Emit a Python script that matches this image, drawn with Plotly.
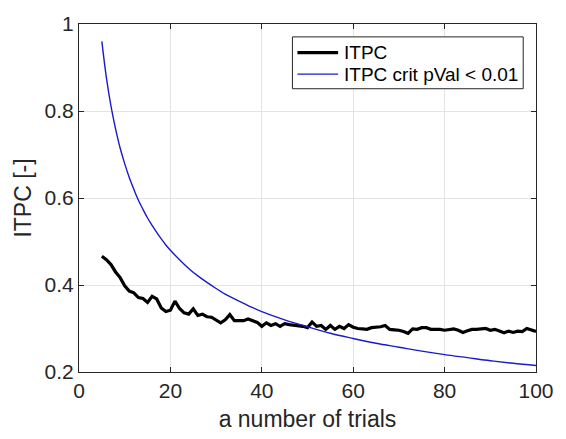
import plotly.graph_objects as go

# Observed ITPC (black) per number of trials, 5..100
trials = list(range(5, 101))
itpc = [0.466, 0.458, 0.447, 0.430, 0.417, 0.398, 0.386, 0.382, 0.371, 0.369,
        0.360, 0.374, 0.368, 0.347, 0.339, 0.342, 0.363, 0.346, 0.336, 0.333,
        0.345, 0.330, 0.333, 0.327, 0.326, 0.320, 0.313, 0.320, 0.332, 0.318,
        0.318, 0.318, 0.322, 0.318, 0.314, 0.305, 0.313, 0.307, 0.311, 0.305,
        0.311, 0.309, 0.308, 0.307, 0.305, 0.302, 0.315, 0.305, 0.307, 0.298,
        0.307, 0.298, 0.305, 0.300, 0.309, 0.303, 0.300, 0.299, 0.298, 0.302,
        0.303, 0.304, 0.307, 0.298, 0.297, 0.296, 0.293, 0.289, 0.299, 0.298,
        0.302, 0.302, 0.298, 0.298, 0.298, 0.296, 0.298, 0.299, 0.296, 0.291,
        0.295, 0.298, 0.298, 0.299, 0.300, 0.296, 0.298, 0.294, 0.290, 0.294,
        0.291, 0.294, 0.293, 0.300, 0.296, 0.293]

# Critical ITPC (blue)
crit_trials = [5, 6, 7, 8, 9, 10, 11, 12, 13, 14, 15, 16, 17, 18, 19, 20,
               22, 24, 26, 28, 30, 32, 34, 36, 38, 40,
               45, 50, 55, 60, 65, 70, 75, 80, 85, 90, 95, 100]
crit = [0.960, 0.876, 0.811, 0.759, 0.715, 0.679, 0.647, 0.620, 0.595, 0.574,
        0.554, 0.537, 0.521, 0.506, 0.492, 0.480,
        0.458, 0.438, 0.421, 0.406, 0.392, 0.379, 0.368, 0.358, 0.348, 0.339,
        0.320, 0.304, 0.289, 0.277, 0.266, 0.257, 0.248, 0.240, 0.233, 0.226,
        0.220, 0.215]

series_names = ["ITPC", "ITPC crit pVal < 0.01"]
series_colors = ["black", "#1a1acc"]
series_widths = [3.2, 1.4]

x_ticks = [0, 20, 40, 60, 80, 100]
y_ticks = [0.2, 0.4, 0.6, 0.8, 1.0]
y_tick_labels = ["0.2", "0.4", "0.6", "0.8", "1"]

FONT = "Liberation Sans, Arial, sans-serif"
TXT = "#262626"

fig = go.Figure()
fig.add_trace(go.Scatter(x=trials, y=itpc, mode="lines", name=series_names[0],
                         line=dict(color=series_colors[0], width=series_widths[0])))
fig.add_trace(go.Scatter(x=crit_trials, y=crit, mode="lines", name=series_names[1],
                         line=dict(color=series_colors[1], width=series_widths[1],
                                   shape="spline")))

axis_common = dict(showgrid=True, gridcolor="#e3e3e3", gridwidth=1,
                   showline=True, linecolor=TXT, linewidth=1, mirror="ticks",
                   ticks="inside", ticklen=5, tickcolor=TXT, zeroline=False,
                   tickfont=dict(family=FONT, size=21, color=TXT))

fig.update_xaxes(range=[0, 100], tickvals=x_ticks,
                 title=dict(text="a number of trials", font=dict(family=FONT, size=23, color=TXT),
                            standoff=9),
                 **axis_common)
fig.update_yaxes(range=[0.2, 1.0], tickvals=y_ticks, ticktext=y_tick_labels,
                 title=dict(text="ITPC [-]", font=dict(family=FONT, size=23, color=TXT),
                            standoff=6),
                 **axis_common)

# MATLAB-style legend box (drawn in paper coordinates)
leg_x0, leg_x1, leg_top, leg_bot = 0.467, 0.972, 0.963, 0.814
row_y = [0.918, 0.856]
sample_x0, sample_x1, text_x = 0.478, 0.567, 0.575
shapes = [dict(type="rect", xref="paper", yref="paper", x0=leg_x0, x1=leg_x1,
               y0=leg_bot, y1=leg_top, line=dict(color=TXT, width=1),
               fillcolor="white", layer="above")]
annotations = []
for name, col, w, yy in zip(series_names, series_colors, series_widths, row_y):
    shapes.append(dict(type="line", xref="paper", yref="paper", x0=sample_x0, x1=sample_x1,
                       y0=yy, y1=yy, line=dict(color=col, width=w), layer="above"))
    annotations.append(dict(xref="paper", yref="paper", x=text_x, y=yy, text=name,
                            showarrow=False, xanchor="left", yanchor="middle",
                            font=dict(family=FONT, size=19, color="black")))

fig.update_layout(
    width=566, height=439,
    margin=dict(l=79, r=18, t=21, b=64),
    plot_bgcolor="white", paper_bgcolor="white",
    showlegend=False,
    shapes=shapes, annotations=annotations,
)

fig.write_html("out.html")
